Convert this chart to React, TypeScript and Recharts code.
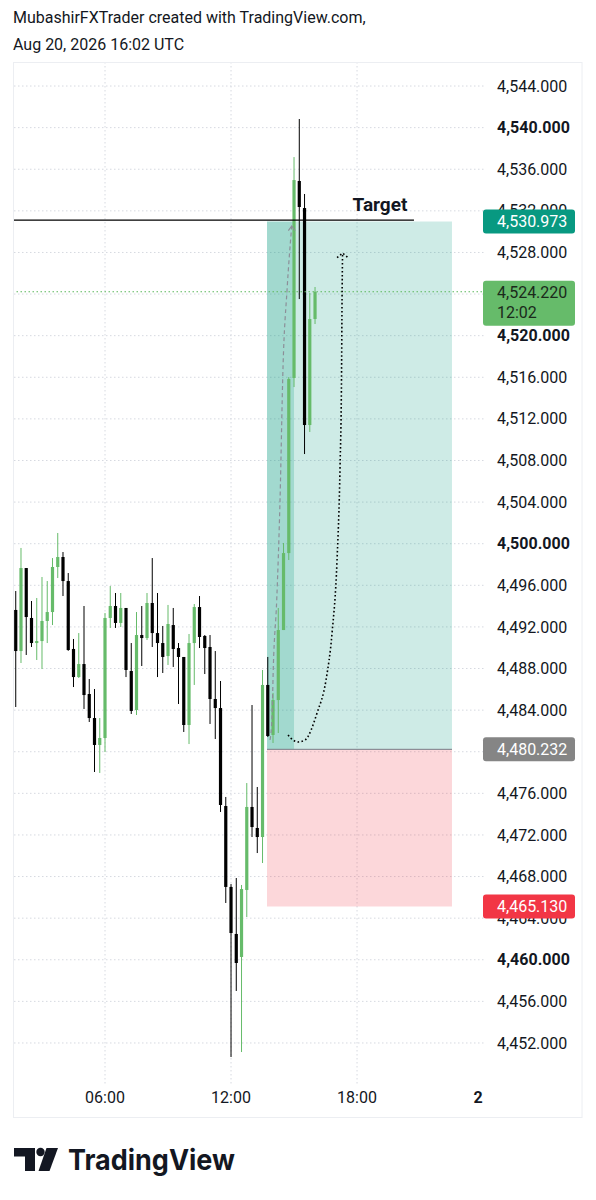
import React from 'react';
import {
  ComposedChart,
  Bar,
  Line,
  XAxis,
  YAxis,
  CartesianGrid,
  ReferenceLine,
  ReferenceArea,
} from 'recharts';

// ---- data -----------------------------------------------------------
const startHour = 1.75; // first 15-min candle at 01:45 UTC
const stepHour = 0.25;

const openPrices = [
  4493.63, 4489.68, 4497.66, 4492.86, 4490.45, 4490.64, 4492.57, 4493.43, 4497.76, 4498.72,
  4496.41, 4489.88, 4487.18, 4488.43, 4485.55, 4483.24, 4480.65, 4481.32, 4492.86, 4494.01,
  4492.38, 4493.82, 4487.76, 4484.01, 4491.22, 4490.93, 4494.3, 4491.41, 4490.45, 4489.2,
  4492.18, 4489.97, 4489.11, 4482.57, 4490.45, 4493.91, 4491.13, 4490.07, 4485.07, 4484.2,
  4474.78, 4467.0, 4462.48, 4460.27, 4466.71, 4474.69, 4472.67, 4471.8, 4486.42, 4481.61,
  4484.97, 4491.7, 4499.1, 4515.93, 4534.87, 4532.27, 4511.41, 4521.6,
];
const highPrices = [
  4495.45, 4499.59, 4497.66, 4494.49, 4494.78, 4496.8, 4496.41, 4498.62, 4501.03, 4499.2,
  4497.18, 4490.84, 4491.41, 4494.01, 4486.99, 4486.03, 4483.24, 4493.34, 4495.93, 4495.26,
  4495.26, 4493.82, 4490.45, 4493.43, 4494.01, 4495.26, 4498.62, 4495.26, 4492.09, 4494.11,
  4493.82, 4490.45, 4489.11, 4491.32, 4494.2, 4494.97, 4491.22, 4491.22, 4489.68, 4486.8,
  4475.65, 4467.28, 4467.86, 4467.19, 4476.99, 4484.49, 4476.61, 4487.86, 4489.11, 4485.65,
  4493.82, 4500.07, 4516.02, 4537.17, 4540.83, 4533.62, 4524.1, 4524.68,
];
const lowPrices = [
  4484.3, 4488.53, 4489.3, 4490.07, 4488.82, 4487.95, 4490.45, 4492.18, 4496.7, 4494.97,
  4489.7, 4486.22, 4487.09, 4484.11, 4482.86, 4478.05, 4477.96, 4479.97, 4491.9, 4491.9,
  4491.99, 4487.18, 4483.63, 4483.53, 4488.24, 4490.74, 4490.07, 4487.18, 4487.57, 4488.34,
  4488.15, 4484.59, 4481.9, 4480.74, 4486.42, 4489.97, 4487.47, 4482.67, 4481.22, 4474.21,
  4465.46, 4450.65, 4457.0, 4451.13, 4464.11, 4471.8, 4470.26, 4469.3, 4481.42, 4480.84,
  4481.8, 4491.7, 4498.43, 4515.06, 4523.52, 4508.62, 4510.74, 4521.12,
];
const closePrices = [
  4489.68, 4497.66, 4492.95, 4490.45, 4490.64, 4492.57, 4493.43, 4497.76, 4498.72, 4496.41,
  4489.78, 4487.18, 4488.43, 4485.45, 4483.24, 4480.65, 4481.32, 4492.86, 4494.01, 4492.38,
  4493.82, 4487.86, 4483.92, 4491.22, 4490.93, 4494.3, 4491.41, 4490.45, 4489.11, 4492.28,
  4489.88, 4489.11, 4482.57, 4490.45, 4493.91, 4491.03, 4489.97, 4485.07, 4484.2, 4474.88,
  4467.0, 4462.57, 4459.69, 4466.8, 4474.69, 4472.76, 4471.8, 4486.42, 4481.51, 4484.97,
  4491.7, 4499.1, 4515.83, 4534.96, 4532.37, 4511.41, 4521.6, 4524.22,
];

const priceTicks = [
  4452, 4456, 4460, 4464, 4468, 4472, 4476, 4480, 4484, 4488, 4492, 4496, 4500,
  4504, 4508, 4512, 4516, 4520, 4524, 4528, 4532, 4536, 4540, 4544,
];
const timeTicks = [6, 12, 18, 24];
const timeLabels = ['06:00', '12:00', '18:00', '2'];
const gridTimes = [6, 12, 18];

const yDomain: [number, number] = [4447.96, 4546.31];
const xDomain: [number, number] = [1.667, 24.14];

const targetPrice = 4530.973;
const entryPrice = 4480.232;
const stopPrice = 4465.13;
const lastPrice = 4524.22;
const countdown = '12:02';
const targetLinePrice = 4531.1;
const targetLineFrom = 1.667;
const targetLineTo = 20.71;
const positionFrom = 13.714;
const positionTo = 22.52;
const reachedTo = 15.0;

const badgePrices = [targetPrice, lastPrice, entryPrice, stopPrice];
const badgeColors = ['#089981', '#66bb6a', '#858585', '#f23645'];
const badgeTextColors = ['#ffffff', '#1b2a1b', '#ffffff', '#ffffff'];
const badgeSubLabels = ['', countdown, '', ''];

const dashedPath = [
  { h: 13.857, p: 4481.13 },
  { h: 13.952, p: 4483.34 },
  { h: 14.014, p: 4488.15 },
  { h: 14.176, p: 4494.59 },
  { h: 14.333, p: 4504.2 },
  { h: 14.476, p: 4516.99 },
  { h: 14.667, p: 4524.39 },
  { h: 14.89, p: 4530.54 },
];
const dashedArrow = [
  { h: 14.73, p: 4530.1 },
  { h: 14.89, p: 4530.55 },
  { h: 15.05, p: 4530.1 },
];
const dottedPath = [
  { h: 14.714, p: 4481.61 },
  { h: 14.952, p: 4481.13 },
  { h: 15.19, p: 4480.94 },
  { h: 15.524, p: 4481.13 },
  { h: 16.095, p: 4483.72 },
  { h: 16.524, p: 4486.9 },
  { h: 16.81, p: 4491.41 },
  { h: 17.048, p: 4498.43 },
  { h: 17.19, p: 4507.37 },
  { h: 17.26, p: 4515.74 },
  { h: 17.286, p: 4523.43 },
  { h: 17.31, p: 4527.9 },
];
const dottedArrow = [
  { h: 17.05, p: 4527.5 },
  { h: 17.31, p: 4527.95 },
  { h: 17.57, p: 4527.5 },
];

const candles = openPrices.map((open, i) => ({
  h: startHour + i * stepHour,
  open,
  high: highPrices[i],
  low: lowPrices[i],
  close: closePrices[i],
  range: [lowPrices[i], highPrices[i]],
}));

// ---- styles ---------------------------------------------------------
const UP = '#66bb6a';
const DOWN = '#000000';
const TEXT = '#131722';
const FONT = 'Roboto, "Noto Sans", sans-serif';

const fmtPrice = (v: number) =>
  v.toLocaleString('en-US', { minimumFractionDigits: 3, maximumFractionDigits: 3 });

function Candle(props: any) {
  const { x, y, width, height, payload } = props;
  if (!payload || x == null) return null;
  const cx = x + width / 2;
  const top = Math.min(y, y + height);
  const hgt = Math.abs(height);
  const span = payload.high - payload.low || 1;
  const py = (v: number) => top + ((payload.high - v) / span) * hgt;
  const up = payload.close >= payload.open;
  const color = up ? UP : DOWN;
  const bt = py(Math.max(payload.open, payload.close));
  const bb = py(Math.min(payload.open, payload.close));
  return (
    <g>
      <line x1={cx} x2={cx} y1={top} y2={top + hgt} stroke={color} strokeWidth={1} />
      <rect x={cx - 1.6} y={bt} width={3.2} height={Math.max(1, bb - bt)} fill={color} />
    </g>
  );
}

function PriceTick(props: any) {
  const { x, y, payload } = props;
  const v = payload.value as number;
  const bold = v % 20 === 0;
  return (
    <text
      x={x}
      y={y}
      dy="0.35em"
      textAnchor="start"
      fontFamily={FONT}
      fontSize={16}
      fontWeight={bold ? 700 : 400}
      fill={TEXT}
    >
      {fmtPrice(v)}
    </text>
  );
}

// badges are drawn as ticks of a 1px-wide axis placed after the price axis,
// so they paint on top of the price labels; x is the outer edge of the frame
function BadgeTick(props: any) {
  const { x, y, payload } = props;
  const i = badgePrices.indexOf(payload.value);
  if (i < 0) return null;
  const sub = badgeSubLabels[i];
  const bx = x - 98;
  const h = sub ? 45 : 24;
  const top = sub ? y - 11 : y - 12;
  return (
    <g>
      <rect x={bx} y={top} width={92} height={h} rx={3} fill={badgeColors[i]} />
      <text
        x={bx + 14}
        y={sub ? y + 1 : y}
        dy="0.35em"
        fontFamily={FONT}
        fontSize={16}
        fill={badgeTextColors[i]}
      >
        {fmtPrice(badgePrices[i])}
      </text>
      {sub ? (
        <text
          x={bx + 14}
          y={y + 21}
          dy="0.35em"
          fontFamily={FONT}
          fontSize={16}
          fill={badgeTextColors[i]}
        >
          {sub}
        </text>
      ) : null}
    </g>
  );
}

function TimeTick(props: any) {
  const { x, y, payload } = props;
  const idx = timeTicks.indexOf(payload.value);
  const label = timeLabels[idx] ?? '';
  const isDay = payload.value === 24;
  return (
    <text
      x={isDay ? x - 5 : x}
      y={y}
      dy="0.35em"
      textAnchor="middle"
      fontFamily={FONT}
      fontSize={16}
      fontWeight={isDay ? 700 : 400}
      fill={TEXT}
    >
      {label}
    </text>
  );
}

const targetLabel = (props: any) => {
  const vb = props.viewBox || {};
  return (
    <text
      x={vb.x + vb.width - 34}
      y={vb.y - 9}
      textAnchor="middle"
      fontFamily={FONT}
      fontSize={19}
      fontWeight={700}
      fill={TEXT}
    >
      Target
    </text>
  );
};

export default function App() {
  return (
    <div
      style={{
        position: 'absolute',
        left: 0,
        top: 0,
        width: 596,
        height: 1200,
        background: '#ffffff',
        fontFamily: FONT,
        overflow: 'hidden',
      }}
    >
      <svg width={596} height={62} style={{ position: 'absolute', left: 0, top: 0 }}>
        <text x={13} y={23} fontFamily={FONT} fontSize={16} fill={TEXT}>
          MubashirFXTrader created with TradingView.com,
        </text>
        <text x={13} y={50} fontFamily={FONT} fontSize={16} fill={TEXT}>
          Aug 20, 2026 16:02 UTC
        </text>
      </svg>

      <div style={{ position: 'absolute', left: 13, top: 62 }}>
        <ComposedChart
          width={569}
          height={1056}
          data={candles}
          margin={{ top: 0, right: 0, bottom: 0, left: 1 }}
        >
          <CartesianGrid
            stroke="#d6d9e0"
            strokeDasharray="1.5 2.5"
            horizontalValues={priceTicks}
            verticalValues={gridTimes}
          />
          <XAxis
            dataKey="h"
            type="number"
            domain={xDomain}
            allowDataOverflow
            ticks={timeTicks}
            interval={0}
            height={33}
            axisLine={false}
            tickLine={false}
            tickSize={0}
            tickMargin={12}
            tick={<TimeTick />}
          />
          <YAxis
            orientation="right"
            type="number"
            domain={yDomain}
            allowDataOverflow
            ticks={priceTicks}
            interval={0}
            width={95}
            axisLine={false}
            tickLine={false}
            tickSize={0}
            tickMargin={11}
            tick={<PriceTick />}
          />
          <YAxis
            yAxisId="badges"
            orientation="right"
            type="number"
            domain={yDomain}
            allowDataOverflow
            ticks={badgePrices}
            interval={0}
            width={1}
            axisLine={false}
            tickLine={false}
            tickSize={0}
            tickMargin={0}
            tick={<BadgeTick />}
          />

          <ReferenceArea
            x1={positionFrom}
            x2={positionTo}
            y1={entryPrice}
            y2={targetPrice}
            fill="#089981"
            fillOpacity={0.2}
            stroke="none"
          />
          <ReferenceArea
            x1={positionFrom}
            x2={reachedTo}
            y1={entryPrice}
            y2={targetPrice}
            fill="#089981"
            fillOpacity={0.22}
            stroke="none"
          />
          <ReferenceArea
            x1={positionFrom}
            x2={positionTo}
            y1={stopPrice}
            y2={entryPrice}
            fill="#f23645"
            fillOpacity={0.2}
            stroke="none"
          />
          <ReferenceLine
            segment={[
              { x: positionFrom, y: entryPrice },
              { x: positionTo, y: entryPrice },
            ]}
            stroke="#787b86"
            strokeWidth={1}
          />
          <ReferenceLine
            y={lastPrice}
            stroke="#5cb85c"
            strokeDasharray="1.5 2.5"
            strokeWidth={1.2}
          />

          <Bar
            dataKey="range"
            barSize={4}
            isAnimationActive={false}
            shape={<Candle />}
          />

          <Line
            data={dashedPath}
            dataKey="p"
            type="monotone"
            stroke="#8c8f98"
            strokeWidth={1.2}
            strokeDasharray="4 3"
            dot={false}
            activeDot={false}
            isAnimationActive={false}
          />
          <Line
            data={dashedArrow}
            dataKey="p"
            type="linear"
            stroke="#8c8f98"
            strokeWidth={1.2}
            dot={false}
            activeDot={false}
            isAnimationActive={false}
          />
          <Line
            data={dottedPath}
            dataKey="p"
            type="monotone"
            stroke="#000000"
            strokeWidth={1.6}
            strokeDasharray="1.6 2.4"
            dot={false}
            activeDot={false}
            isAnimationActive={false}
          />
          <Line
            data={dottedArrow}
            dataKey="p"
            type="linear"
            stroke="#000000"
            strokeWidth={1.6}
            strokeDasharray="1.6 2.4"
            dot={false}
            activeDot={false}
            isAnimationActive={false}
          />

          <ReferenceLine
            segment={[
              { x: targetLineFrom, y: targetLinePrice },
              { x: targetLineTo, y: targetLinePrice },
            ]}
            stroke="#000000"
            strokeWidth={1.2}
            label={targetLabel}
          />
        </ComposedChart>
      </div>

      <svg width={596} height={1200} style={{ position: 'absolute', left: 0, top: 0, pointerEvents: 'none' }}>
        <rect x={13.5} y={62.5} width={568.5} height={1055} fill="none" stroke="#eceef2" strokeWidth={1} />
      </svg>

      <svg width={596} height={80} style={{ position: 'absolute', left: 0, top: 1130 }}>
        <path d="M14 18 H35 V41 H25 V26.5 H14 Z" fill="#131722" />
        <circle cx={40.5} cy={22} r={4.2} fill="#131722" />
        <path d="M46.5 18 H58 L49.5 41 H38.5 Z" fill="#131722" />
        <text
          x={68}
          y={40}
          fontFamily='Inter, Roboto, sans-serif'
          fontSize={29}
          fontWeight={700}
          fill="#131722"
          textLength={167}
          lengthAdjust="spacingAndGlyphs"
        >
          TradingView
        </text>
      </svg>
    </div>
  );
}
